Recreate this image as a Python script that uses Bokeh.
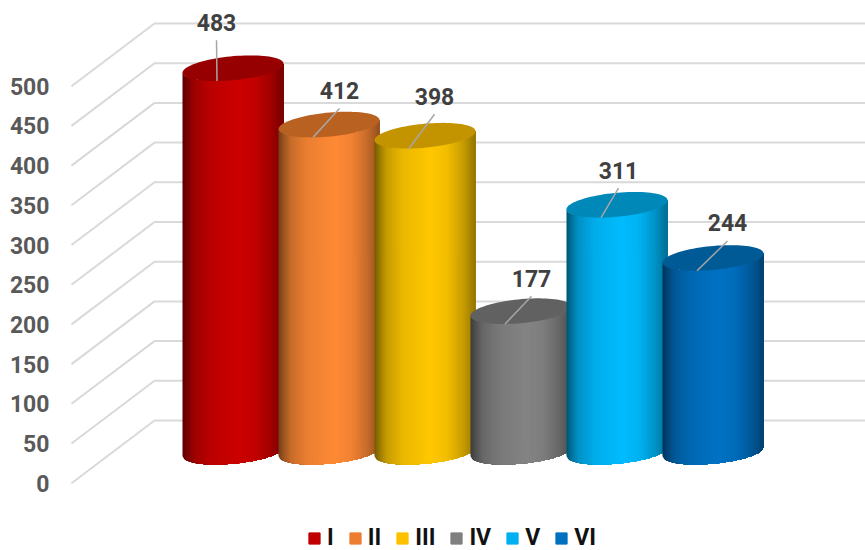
import numpy as np
from bokeh.plotting import figure
from bokeh.models import ColumnDataSource, FixedTicker, LinearAxis, Legend, LegendItem, Range1d
from bokeh.core.properties import value
from bokeh.embed import file_html
from bokeh.resources import INLINE

# data
categories = ["I", "II", "III", "IV", "V", "VI"]
values = [483, 412, 398, 177, 311, 244]
y_ticks = [0, 50, 100, 150, 200, 250, 300, 350, 400, 450, 500]
# colours
body_colors = ["#cc0000", "#ff8a36", "#ffc800", "#848484", "#00bcff", "#0072c4"]
top_colors = ["#960000", "#b96121", "#c49400", "#616161", "#0088b9", "#005a96"]
legend_colors = ["#c00000", "#ed7d31", "#ffc000", "#7f7f7f", "#00b0f0", "#0070c0"]
# layout (pixels, measured on the picture)
PX = 0.794            # pixels per value unit
AXIS_Y0 = 482.7       # row of value 0 on the front edge
W, H = 865, 550
FRAME_L = 68
SHIFT = 1             # frame sits one pixel right of the nominal position
FRONT_X, WALL_X = 72, 155
DEPTH = 62.7 / PX
BASE = (AXIS_Y0 - 451.2) / PX
FIRST_CX, STEP, A = 233.5, 96.0, 50.5
TILT, B = 4.5 / PX, 12.0 / PX
label_dx = [-16.5, 10.5, 9.5, 10.5, 1.5, 14.5]
label_dy = [46, 34, 39.5, 33, 34.6, 35]

def rgb(hexc):
    return np.array([int(hexc[i:i + 2], 16) for i in (1, 3, 5)], float)

def shade(hexc, f):
    c = np.clip(rgb(hexc) * f, 0, 255).astype(int)
    return "#%02x%02x%02x" % tuple(c)

def edge(u):
    return TILT * u - B * np.sqrt(np.clip(1 - u * u, 0, 1))

p = figure(width=W, height=H, x_range=Range1d(FRAME_L + SHIFT, W + SHIFT),
           y_range=Range1d((AXIS_Y0 - H) / PX, AXIS_Y0 / PX),
           output_backend="svg", toolbar_location=None, y_axis_location=None,
           x_axis_location=None, min_border_left=FRAME_L, min_border_right=0,
           min_border_top=0, min_border_bottom=0)
p.grid.visible = False
p.outline_line_color = None
p.background_fill_color = "white"

axis = LinearAxis(ticker=FixedTicker(ticks=y_ticks))
axis.axis_line_color = None
axis.major_tick_line_color = None
axis.minor_tick_line_color = None
axis.major_label_standoff = FRAME_L - 55
axis.major_label_text_font = "Roboto"
axis.major_label_text_font_style = "bold"
axis.major_label_text_font_size = "23px"
axis.major_label_text_color = "#595959"
p.add_layout(axis, "left")

# back wall and floor-side grid
p.multi_line(xs=[[FRONT_X, WALL_X, W + SHIFT] for _ in y_ticks],
             ys=[[v, v + DEPTH, v + DEPTH] for v in y_ticks],
             line_color="#d9d9d9", line_width=2)

stops = [0.0, 0.04, 0.12, 0.28, 0.55, 0.72, 0.88, 1.0]
factors = [0.45, 0.58, 0.78, 0.92, 1.0, 0.95, 0.78, 0.58]
N = 60
xs, ys, cols = [], [], []
for i, v in enumerate(values):
    cx = FIRST_CX + STEP * i
    u = np.linspace(-1, 1, N + 1)
    top = BASE + v
    for j in range(N):
        # every strip runs on to the right edge, so no seams show between strips
        us = u[j:]
        f = np.interp((u[j] + u[j + 1] + 2) / 4, stops, factors)
        xs.append(list(cx + A * us) + list(cx + A * us[::-1]))
        ys.append(list(BASE + edge(us)) + list(top + edge(us[::-1])))
        cols.append(shade(body_colors[i], f))
    t = np.linspace(0, 2 * np.pi, 90)
    xs.append(list(cx + A * np.cos(t)))
    ys.append(list(top + TILT * np.cos(t) + B * np.sin(t)))
    cols.append(top_colors[i])
p.patches(xs="xs", ys="ys", fill_color="cols", line_color=None,
          source=ColumnDataSource(dict(xs=xs, ys=ys, cols=cols)))

# leader lines and data labels
lx0, ly0, lx1, ly1, tx, ty = [], [], [], [], [], []
for i, v in enumerate(values):
    cx = FIRST_CX + STEP * i
    top = BASE + v
    sx = -16.0
    lx0.append(cx + sx)
    ly0.append(top + edge(sx / A))
    lx1.append(cx + label_dx[i])
    ly1.append(top + (label_dy[i] - 18) / PX)
    tx.append(cx + label_dx[i])
    ty.append(top + label_dy[i] / PX)
p.segment(lx0, ly0, lx1, ly1, line_color="#a6a6a6", line_width=1.5)
p.text(tx, ty, text=[str(v) for v in values], text_font=value("Roboto"),
       text_font_style="bold", text_font_size="23px", text_color="#404040",
       text_align="center", text_baseline="middle")

# legend
items = []
for name, c in zip(categories, legend_colors):
    r = p.quad(left=[np.nan], right=[np.nan], top=[np.nan], bottom=[np.nan],
               fill_color=c, line_color=c)
    items.append(LegendItem(label=name, renderers=[r]))
legend = Legend(items=items, orientation="horizontal", location=(307 - FRAME_L, -1),
                glyph_width=14, glyph_height=14, label_standoff=6, spacing=14,
                label_width=0, padding=0, margin=0, border_line_color=None,
                background_fill_alpha=0, label_text_font="Roboto",
                label_text_font_style="bold", label_text_font_size="23px",
                label_text_color="#111111")
p.add_layout(legend, "center")

open("out.html", "w").write(file_html(p, INLINE))
